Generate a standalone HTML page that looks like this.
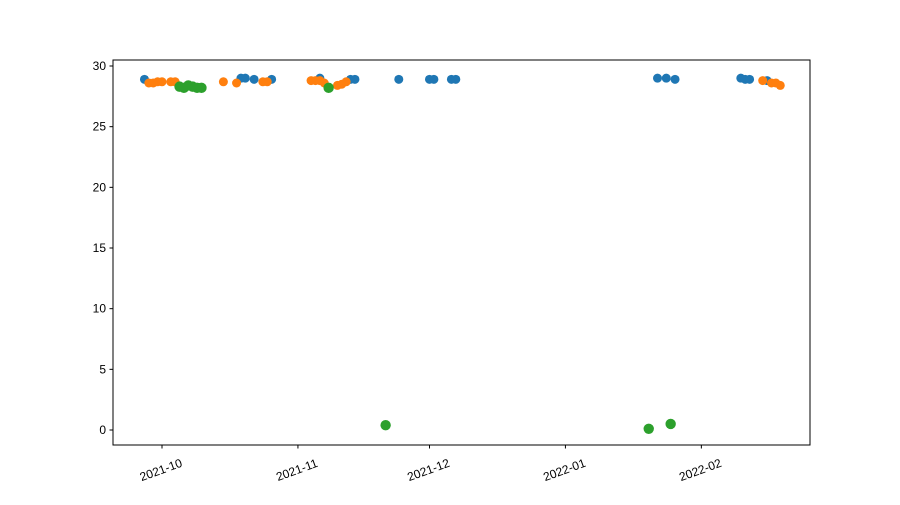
<!DOCTYPE html>
<html><head><meta charset="utf-8"><style>
body{margin:0;background:#fff;}
svg text{font-family:"Liberation Sans","DejaVu Sans",sans-serif;font-size:12px;fill:#000;}
</style></head><body>
<svg id="chart" width="900" height="500">
<rect x="0" y="0" width="900" height="500" fill="#fff"/>
<g id="marks"></g>
<g id="axes"></g>
<rect x="113" y="60" width="697" height="385" fill="none" stroke="#000" stroke-width="1"/>
</svg>
<script>
const blueDates=["2021-09-27","2021-10-19","2021-10-20","2021-10-22","2021-10-26","2021-11-06","2021-11-13","2021-11-14","2021-11-24","2021-12-01","2021-12-02","2021-12-06","2021-12-07","2022-01-22","2022-01-24","2022-01-26","2022-02-10","2022-02-11","2022-02-12","2022-02-16"];
const blueValues=[28.9,29.0,29.0,28.9,28.9,29.0,28.9,28.9,28.9,28.9,28.9,28.9,28.9,29.0,29.0,28.9,29.0,28.9,28.9,28.8];
const orangeDates=["2021-09-28","2021-09-29","2021-09-30","2021-10-01","2021-10-03","2021-10-04","2021-10-15","2021-10-18","2021-10-24","2021-10-25","2021-11-04","2021-11-05","2021-11-06","2021-11-07","2021-11-10","2021-11-11","2021-11-12","2022-02-15","2022-02-17","2022-02-18","2022-02-19"];
const orangeValues=[28.6,28.6,28.7,28.7,28.7,28.7,28.7,28.6,28.7,28.7,28.8,28.8,28.8,28.6,28.4,28.5,28.7,28.8,28.6,28.6,28.4];
const greenDates=["2021-10-05","2021-10-06","2021-10-07","2021-10-08","2021-10-09","2021-10-10","2021-11-08","2021-11-21","2022-01-20","2022-01-25"];
const greenValues=[28.3,28.2,28.4,28.3,28.2,28.2,28.2,0.4,0.1,0.5];
const yTicks=[0,5,10,15,20,25,30];
const xTicks=["2021-10-01","2021-11-01","2021-12-01","2022-01-01","2022-02-01"];
const xTickLabels=["2021-10","2021-11","2021-12","2022-01","2022-02"];

const NS="http://www.w3.org/2000/svg";
const origin=Date.UTC(2021,9,1);
function dayNum(s){const p=s.split("-").map(Number);return (Date.UTC(p[0],p[1]-1,p[2])-origin)/86400000;}
function xScale(s){return 162+dayNum(s)*4.385;}
function yScale(v){return 430-v*12.133;}
const marks=document.getElementById('marks');
const axes=document.getElementById('axes');
function series(dates,vals,color,r,name){
  dates.forEach((d,i)=>{
    const c=document.createElementNS(NS,'circle');
    c.setAttribute('cx',xScale(d));c.setAttribute('cy',yScale(vals[i]));
    c.setAttribute('r',r);c.setAttribute('fill',color);
    
    
    marks.appendChild(c);
  });
}
series(blueDates,blueValues,'#1f77b4',4.5,'blue-series');
series(orangeDates,orangeValues,'#ff7f0e',4.5,'orange-series');
series(greenDates,greenValues,'#2ca02c',5.2,'green-series');
yTicks.forEach(v=>{
  const y=yScale(v);
  const l=document.createElementNS(NS,'line');
  l.setAttribute('x1',109.5);l.setAttribute('x2',113);l.setAttribute('y1',y);l.setAttribute('y2',y);l.setAttribute('stroke','#000');
  
  
  axes.appendChild(l);
  const t=document.createElementNS(NS,'text');
  t.setAttribute('x',106);t.setAttribute('y',y+4);t.setAttribute('text-anchor','end');t.textContent=v;
  
  
  axes.appendChild(t);
});
xTicks.forEach((d,i)=>{
  const x=xScale(d);
  const l=document.createElementNS(NS,'line');
  l.setAttribute('x1',x);l.setAttribute('x2',x);l.setAttribute('y1',445);l.setAttribute('y2',448.5);l.setAttribute('stroke','#000');
  
  
  axes.appendChild(l);
  const t=document.createElementNS(NS,'text');
  const cx=x-1, cy=470;
  t.setAttribute('x',cx);t.setAttribute('y',cy+4);t.setAttribute('text-anchor','middle');
  t.setAttribute('transform','rotate(-20 '+cx+' '+cy+')');
  t.textContent=xTickLabels[i];
  
  
  axes.appendChild(t);
});
</script>
</body></html>
